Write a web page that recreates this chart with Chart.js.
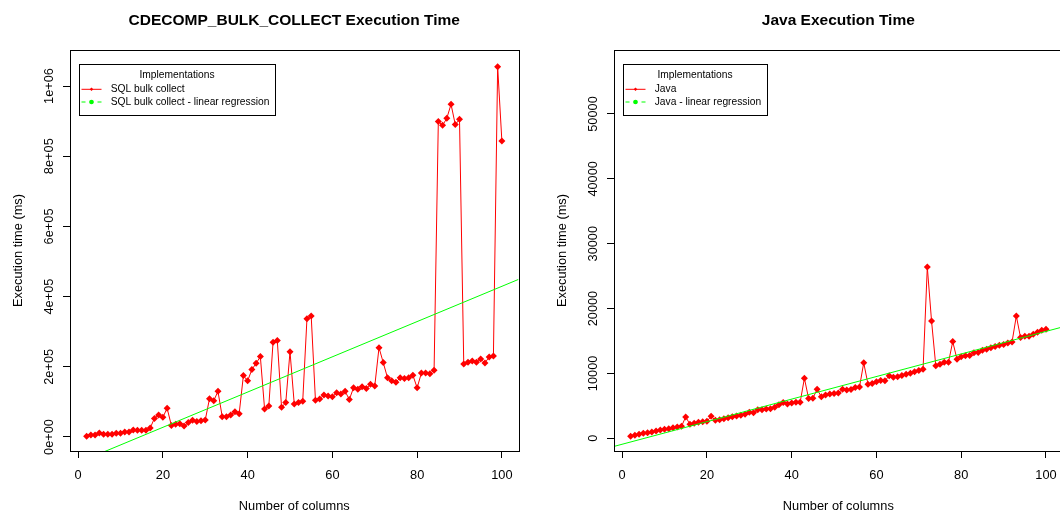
<!DOCTYPE html>
<html>
<head>
<meta charset="utf-8">
<script src="https://cdn.jsdelivr.net/npm/chart.js@4.4.1/dist/chart.umd.min.js"></script>
<style>
  html, body { margin: 0; padding: 0; background: #fff; overflow: hidden; }
  #wrap { position: relative; width: 1060px; height: 515px; overflow: hidden; }
  canvas { position: absolute; top: 0; }
  #sqlChart { left: 0; }
  #javaChart { left: 530px; }
</style>
</head>
<body>
<div id="wrap">
  <canvas id="sqlChart" width="530" height="515"></canvas>
  <canvas id="javaChart" width="546" height="515"></canvas>
</div>
<script>
// number of columns (x) shared by both runs
const columns = [
  2, 3, 4, 5, 6, 7, 8, 9, 10, 11, 12, 13, 14, 15, 16, 17, 18, 19, 20,
  21, 22, 23, 24, 25, 26, 27, 28, 29, 30, 31, 32, 33, 34, 35, 36, 37, 38, 39, 40,
  41, 42, 43, 44, 45, 46, 47, 48, 49, 50, 51, 52, 53, 54, 55, 56, 57, 58, 59, 60,
  61, 62, 63, 64, 65, 66, 67, 68, 69, 70, 71, 72, 73, 74, 75, 76, 77, 78, 79, 80,
  81, 82, 83, 84, 85, 86, 87, 88, 89, 90, 91, 92, 93, 94, 95, 96, 97, 98, 99, 100
];

// execution time (ms), SQL bulk collect
const sqlBulkCollect = [
  2000, 5700, 5700, 11400, 7600, 7600, 7600, 10500, 10500, 14000, 14000, 20000, 19000, 19000, 19000, 25600, 53000, 63000, 56000,
  82000, 33000, 36000, 38000, 31000, 41000, 47500, 44000, 46500, 48500, 109000, 103500, 130000, 58000, 58000, 63000, 72000, 66500, 175000, 160000,
  192000, 210000, 229000, 80000, 88000, 270000, 275000, 84500, 98000, 243000, 94000, 98000, 102000, 337000, 345000, 105000, 108500, 120000, 117000, 115000,
  126000, 122500, 130000, 107000, 140500, 136000, 143000, 138000, 150000, 145000, 254500, 212000, 169000, 160000, 156000, 169000, 167000, 169000, 176000, 140000,
  182000, 182000, 180500, 190000, 899000, 888000, 908000, 948000, 890000, 905000, 208000, 213000, 216500, 213000, 222000, 211000, 228000, 231000, 1055000, 843000
];
// regression line ends, read at the plot edges
const sqlFitX = [-1.92, 103.92];
const sqlFitY = [-82500, 449000];

// execution time (ms), Java
const javaTimes = [
  300, 460, 610, 760, 870, 970, 1120, 1280, 1380, 1480, 1640, 1740, 1840, 3300, 2150, 2310, 2460, 2560, 2620,
  3390, 2770, 2870, 3030, 3180, 3340, 3440, 3540, 3700, 4000, 3950, 4420, 4420, 4520, 4570, 4780, 5190, 5500, 5290, 5440,
  5550, 5550, 9250, 6120, 6170, 7550, 6400, 6660, 6810, 6920, 6970, 7580, 7430, 7530, 7840, 7890, 11630, 8350, 8460, 8710,
  8920, 8870, 9630, 9430, 9480, 9690, 9890, 10040, 10250, 10450, 10660, 26400, 18100, 11170, 11420, 11730, 11730, 14910, 12200, 12560,
  12710, 12760, 13170, 13220, 13580, 13730, 13940, 14150, 14350, 14450, 14710, 14860, 18860, 15530, 15730, 15730, 16040, 16350, 16660, 16810
];
const javaFitX = [-1.92, 103.92];
const javaFitY = [-1250, 17165];

const xTicks = [0, 20, 40, 60, 80, 100];
const sqlYTicks = [0, 200000, 400000, 600000, 800000, 1000000];
const sqlYTickLabels = ["0e+00", "2e+05", "4e+05", "6e+05", "8e+05", "1e+06"];
const javaYTicks = [0, 10000, 20000, 30000, 40000, 50000];
const javaYTickLabels = ["0", "10000", "20000", "30000", "40000", "50000"];

const FONT = '"Liberation Sans", Arial, Helvetica, sans-serif';
Chart.defaults.font.family = FONT;

// R-style box, titles, rotated y labels and legend
const rDecor = {
  id: 'rDecor',
  afterDraw(chart, args, opts) {
    const ctx = chart.ctx;
    const a = chart.chartArea;
    const yScale = chart.scales.y;
    const cx = (a.left + a.right) / 2;
    ctx.save();
    ctx.strokeStyle = '#000';
    ctx.fillStyle = '#000';
    ctx.lineWidth = 1;
    ctx.strokeRect(Math.round(a.left) + 0.5, Math.round(a.top) + 0.5,
      Math.round(a.right - a.left), Math.round(a.bottom - a.top));

    ctx.textAlign = 'center';
    ctx.textBaseline = 'alphabetic';
    ctx.font = 'bold 15.5px ' + FONT;
    ctx.fillText(opts.title, cx, 24.5);

    ctx.font = '12.8px ' + FONT;
    ctx.fillText('Number of columns', cx, 510);

    opts.yTicks.forEach((v, i) => {
      ctx.save();
      ctx.translate(a.left - 17.3, yScale.getPixelForValue(v));
      ctx.rotate(-Math.PI / 2);
      ctx.fillText(opts.yTickLabels[i], 0, 0);
      ctx.restore();
    });
    ctx.save();
    ctx.translate(a.left - 48, (a.top + a.bottom) / 2);
    ctx.rotate(-Math.PI / 2);
    ctx.fillText('Execution time (ms)', 0, 0);
    ctx.restore();

    // legend
    ctx.font = '10.24px ' + FONT;
    const textW = Math.max(...opts.legendLabels.map(t => ctx.measureText(t).width));
    const bx = Math.round(a.left + 8.5);
    const by = Math.round(a.top + 14);
    const bw = Math.round(31.5 + textW + 6);
    ctx.strokeRect(bx + 0.5, by + 0.5, bw, 51);
    ctx.fillText('Implementations', bx + bw / 2, by + 13.7);
    ctx.textAlign = 'left';
    ctx.fillText(opts.legendLabels[0], bx + 31.7, by + 28.3);
    ctx.fillText(opts.legendLabels[1], bx + 31.7, by + 41);

    let ly = by + 25.3;
    ctx.strokeStyle = '#ff0000';
    ctx.beginPath(); ctx.moveTo(bx + 2.5, ly); ctx.lineTo(bx + 22.5, ly); ctx.stroke();
    ctx.fillStyle = '#ff0000';
    ctx.beginPath();
    ctx.moveTo(bx + 12.5, ly - 1.8); ctx.lineTo(bx + 14.3, ly);
    ctx.lineTo(bx + 12.5, ly + 1.8); ctx.lineTo(bx + 10.7, ly);
    ctx.closePath(); ctx.fill();

    ly = by + 38;
    ctx.strokeStyle = '#00ff00';
    ctx.setLineDash([4, 4]);
    ctx.beginPath(); ctx.moveTo(bx + 2.5, ly); ctx.lineTo(bx + 22.5, ly); ctx.stroke();
    ctx.setLineDash([]);
    ctx.fillStyle = '#00ff00';
    ctx.beginPath(); ctx.arc(bx + 12.5, ly, 2.3, 0, Math.PI * 2); ctx.fill();
    ctx.restore();
  }
};

function axisGrid() {
  return { drawOnChartArea: false, drawTicks: true, tickLength: 7, color: '#000', lineWidth: 1 };
}

function makeChart(id, ys, fitX, fitY, yMin, yMax, yTicks, yTickLabels, title, legendLabels, leftW, rightPad) {
  const points = columns.map((c, i) => ({ x: c, y: ys[i] }));
  const fit = fitX.map((x, i) => ({ x: x, y: fitY[i] }));
  return new Chart(document.getElementById(id), {
    type: 'scatter',
    data: {
      datasets: [
        {
          label: legendLabels[1],
          data: fit,
          showLine: true,
          borderColor: '#00ff00',
          borderWidth: 1,
          pointRadius: 0,
          order: 0,
        },
        {
          label: legendLabels[0],
          data: points,
          showLine: true,
          borderColor: '#ff0000',
          backgroundColor: '#ff0000',
          borderWidth: 1,
          pointStyle: 'rectRot',
          pointRadius: 3.5,
          pointBorderWidth: 0,
          order: 1,
        },
      ],
    },
    options: {
      responsive: false,
      animation: false,
      devicePixelRatio: 1,
      events: [],
      layout: { padding: { left: 0, top: 50, right: rightPad, bottom: 0 } },
      plugins: {
        legend: { display: false },
        tooltip: { enabled: false },
        title: { display: false },
        rDecor: { title: title, yTicks: yTicks, yTickLabels: yTickLabels, legendLabels: legendLabels },
      },
      scales: {
        x: {
          type: 'linear',
          min: -1.92,
          max: 103.92,
          afterBuildTicks: (s) => { s.ticks = xTicks.map(v => ({ value: v })); },
          afterFit: (s) => { s.height = 64; },
          grid: axisGrid(),
          border: { display: false },
          ticks: { color: '#000', font: { size: 12.8 }, padding: 10, maxRotation: 0, autoSkip: false, callback: (v) => String(v) },
        },
        y: {
          type: 'linear',
          min: yMin,
          max: yMax,
          afterBuildTicks: (s) => { s.ticks = yTicks.map(v => ({ value: v })); },
          afterFit: (s) => { s.width = leftW; },
          grid: axisGrid(),
          border: { display: false },
          ticks: { display: false },
        },
      },
    },
    plugins: [rDecor],
  });
}

makeChart('sqlChart', sqlBulkCollect, sqlFitX, sqlFitY, -39900, 1102600,
  sqlYTicks, sqlYTickLabels, 'CDECOMP_BULK_COLLECT Execution Time',
  ['SQL bulk collect', 'SQL bulk collect - linear regression'], 70, 11.5);

makeChart('javaChart', javaTimes, javaFitX, javaFitY, -1958, 59860,
  javaYTicks, javaYTickLabels, 'Java Execution Time',
  ['Java', 'Java - linear regression'], 84, 13.4);
</script>
</body>
</html>
